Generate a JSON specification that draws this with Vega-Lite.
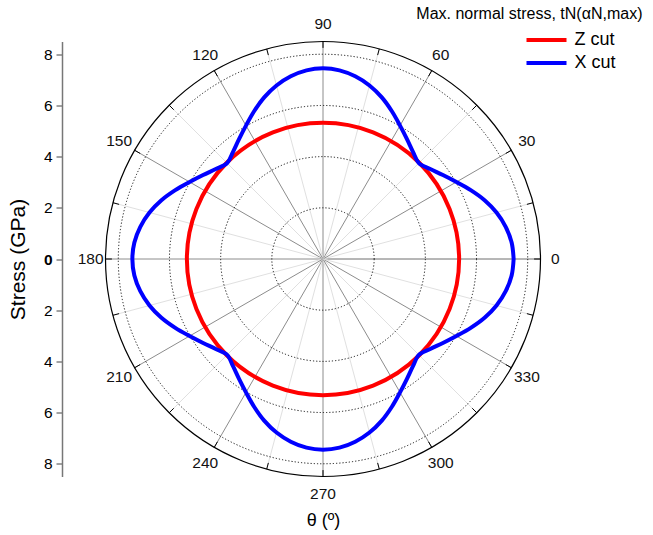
{
  "$schema": "https://vega.github.io/schema/vega-lite/v6.json",
  "width": 435,
  "height": 435,
  "autosize": {"type": "none"},
  "padding": {"left": 105.5, "top": 41.5, "right": 112.5, "bottom": 58.5},
  "background": "white",
  "config": {"font": "Liberation Sans", "view": {"stroke": null}, "axis": {"grid": false}},
  "title": {"text": "Max. normal stress, tN(αN,max)", "anchor": "end", "frame": "group", "dx": 102, "offset": -5.5, "fontSize": 16, "fontWeight": "normal", "color": "#000"},
  "datasets": {
    "spokes": [
      {"a": 0, "c": 0, "xo": 8.5, "yo": 0, "xi": 8.25, "yi": 0},
      {"a": 15, "c": 0, "xo": 8.2104, "yo": 2.2, "xi": 7.9689, "yi": 2.1353},
      {"a": 30, "c": 0, "xo": 7.3613, "yo": 4.25, "xi": 7.1447, "yi": 4.125},
      {"a": 45, "c": 0, "xo": 6.0104, "yo": 6.0104, "xi": 5.8337, "yi": 5.8337},
      {"a": 60, "c": 0, "xo": 4.25, "yo": 7.3613, "xi": 4.125, "yi": 7.1447},
      {"a": 75, "c": 0, "xo": 2.2, "yo": 8.2104, "xi": 2.1353, "yi": 7.9689},
      {"a": 90, "c": 0, "xo": 0, "yo": 8.5, "xi": 0, "yi": 8.25},
      {"a": 105, "c": 0, "xo": -2.2, "yo": 8.2104, "xi": -2.1353, "yi": 7.9689},
      {"a": 120, "c": 0, "xo": -4.25, "yo": 7.3613, "xi": -4.125, "yi": 7.1447},
      {"a": 135, "c": 0, "xo": -6.0104, "yo": 6.0104, "xi": -5.8337, "yi": 5.8337},
      {"a": 150, "c": 0, "xo": -7.3613, "yo": 4.25, "xi": -7.1447, "yi": 4.125},
      {"a": 165, "c": 0, "xo": -8.2104, "yo": 2.2, "xi": -7.9689, "yi": 2.1353},
      {"a": 180, "c": 0, "xo": -8.5, "yo": 0, "xi": -8.25, "yi": 0},
      {"a": 195, "c": 0, "xo": -8.2104, "yo": -2.2, "xi": -7.9689, "yi": -2.1353},
      {"a": 210, "c": 0, "xo": -7.3613, "yo": -4.25, "xi": -7.1447, "yi": -4.125},
      {"a": 225, "c": 0, "xo": -6.0104, "yo": -6.0104, "xi": -5.8337, "yi": -5.8337},
      {"a": 240, "c": 0, "xo": -4.25, "yo": -7.3613, "xi": -4.125, "yi": -7.1447},
      {"a": 255, "c": 0, "xo": -2.2, "yo": -8.2104, "xi": -2.1353, "yi": -7.9689},
      {"a": 270, "c": 0, "xo": 0, "yo": -8.5, "xi": 0, "yi": -8.25},
      {"a": 285, "c": 0, "xo": 2.2, "yo": -8.2104, "xi": 2.1353, "yi": -7.9689},
      {"a": 300, "c": 0, "xo": 4.25, "yo": -7.3613, "xi": 4.125, "yi": -7.1447},
      {"a": 315, "c": 0, "xo": 6.0104, "yo": -6.0104, "xi": 5.8337, "yi": -5.8337},
      {"a": 330, "c": 0, "xo": 7.3613, "yo": -4.25, "xi": 7.1447, "yi": -4.125},
      {"a": 345, "c": 0, "xo": 8.2104, "yo": -2.2, "xi": 7.9689, "yi": -2.1353}
    ],
    "rings": [{"c": 0, "r": 2}, {"c": 0, "r": 4}, {"c": 0, "r": 6}, {"c": 0, "r": 8}],
    "labels": [
      {"angle": 0, "lx": 9.08, "ly": 0},
      {"angle": 30, "lx": 7.967, "ly": 4.6},
      {"angle": 60, "lx": 4.6, "ly": 7.967},
      {"angle": 90, "lx": 0, "ly": 9.2},
      {"angle": 120, "lx": -4.6, "ly": 7.967},
      {"angle": 150, "lx": -7.967, "ly": 4.6},
      {"angle": 180, "lx": -9.08, "ly": 0},
      {"angle": 210, "lx": -7.967, "ly": -4.6},
      {"angle": 240, "lx": -4.6, "ly": -7.967},
      {"angle": 270, "lx": 0, "ly": -9.2},
      {"angle": 300, "lx": 4.6, "ly": -7.967},
      {"angle": 330, "lx": 7.967, "ly": -4.6}
    ],
    "xcut": [
      {"s": "X cut", "t": 0, "x": 7.45, "y": 0},
      {"s": "X cut", "t": 5, "x": 7.372, "y": 0.645},
      {"s": "X cut", "t": 10, "x": 7.14, "y": 1.259},
      {"s": "X cut", "t": 15, "x": 6.781, "y": 1.817},
      {"s": "X cut", "t": 20, "x": 6.315, "y": 2.298},
      {"s": "X cut", "t": 25, "x": 5.773, "y": 2.692},
      {"s": "X cut", "t": 30, "x": 5.214, "y": 3.01},
      {"s": "X cut", "t": 35, "x": 4.686, "y": 3.281},
      {"s": "X cut", "t": 40, "x": 4.19, "y": 3.516},
      {"s": "X cut", "t": 45, "x": 3.748, "y": 3.748},
      {"s": "X cut", "t": 50, "x": 3.516, "y": 4.19},
      {"s": "X cut", "t": 55, "x": 3.281, "y": 4.686},
      {"s": "X cut", "t": 60, "x": 3.01, "y": 5.214},
      {"s": "X cut", "t": 65, "x": 2.692, "y": 5.773},
      {"s": "X cut", "t": 70, "x": 2.298, "y": 6.315},
      {"s": "X cut", "t": 75, "x": 1.817, "y": 6.781},
      {"s": "X cut", "t": 80, "x": 1.259, "y": 7.14},
      {"s": "X cut", "t": 85, "x": 0.645, "y": 7.372},
      {"s": "X cut", "t": 90, "x": 0, "y": 7.45},
      {"s": "X cut", "t": 95, "x": -0.645, "y": 7.372},
      {"s": "X cut", "t": 100, "x": -1.259, "y": 7.14},
      {"s": "X cut", "t": 105, "x": -1.817, "y": 6.781},
      {"s": "X cut", "t": 110, "x": -2.298, "y": 6.315},
      {"s": "X cut", "t": 115, "x": -2.692, "y": 5.773},
      {"s": "X cut", "t": 120, "x": -3.01, "y": 5.214},
      {"s": "X cut", "t": 125, "x": -3.281, "y": 4.686},
      {"s": "X cut", "t": 130, "x": -3.516, "y": 4.19},
      {"s": "X cut", "t": 135, "x": -3.748, "y": 3.748},
      {"s": "X cut", "t": 140, "x": -4.19, "y": 3.516},
      {"s": "X cut", "t": 145, "x": -4.686, "y": 3.281},
      {"s": "X cut", "t": 150, "x": -5.214, "y": 3.01},
      {"s": "X cut", "t": 155, "x": -5.773, "y": 2.692},
      {"s": "X cut", "t": 160, "x": -6.315, "y": 2.298},
      {"s": "X cut", "t": 165, "x": -6.781, "y": 1.817},
      {"s": "X cut", "t": 170, "x": -7.14, "y": 1.259},
      {"s": "X cut", "t": 175, "x": -7.372, "y": 0.645},
      {"s": "X cut", "t": 180, "x": -7.45, "y": 0},
      {"s": "X cut", "t": 185, "x": -7.372, "y": -0.645},
      {"s": "X cut", "t": 190, "x": -7.14, "y": -1.259},
      {"s": "X cut", "t": 195, "x": -6.781, "y": -1.817},
      {"s": "X cut", "t": 200, "x": -6.315, "y": -2.298},
      {"s": "X cut", "t": 205, "x": -5.773, "y": -2.692},
      {"s": "X cut", "t": 210, "x": -5.214, "y": -3.01},
      {"s": "X cut", "t": 215, "x": -4.686, "y": -3.281},
      {"s": "X cut", "t": 220, "x": -4.19, "y": -3.516},
      {"s": "X cut", "t": 225, "x": -3.748, "y": -3.748},
      {"s": "X cut", "t": 230, "x": -3.516, "y": -4.19},
      {"s": "X cut", "t": 235, "x": -3.281, "y": -4.686},
      {"s": "X cut", "t": 240, "x": -3.01, "y": -5.214},
      {"s": "X cut", "t": 245, "x": -2.692, "y": -5.773},
      {"s": "X cut", "t": 250, "x": -2.298, "y": -6.315},
      {"s": "X cut", "t": 255, "x": -1.817, "y": -6.781},
      {"s": "X cut", "t": 260, "x": -1.259, "y": -7.14},
      {"s": "X cut", "t": 265, "x": -0.645, "y": -7.372},
      {"s": "X cut", "t": 270, "x": 0, "y": -7.45},
      {"s": "X cut", "t": 275, "x": 0.645, "y": -7.372},
      {"s": "X cut", "t": 280, "x": 1.259, "y": -7.14},
      {"s": "X cut", "t": 285, "x": 1.817, "y": -6.781},
      {"s": "X cut", "t": 290, "x": 2.298, "y": -6.315},
      {"s": "X cut", "t": 295, "x": 2.692, "y": -5.773},
      {"s": "X cut", "t": 300, "x": 3.01, "y": -5.214},
      {"s": "X cut", "t": 305, "x": 3.281, "y": -4.686},
      {"s": "X cut", "t": 310, "x": 3.516, "y": -4.19},
      {"s": "X cut", "t": 315, "x": 3.748, "y": -3.748},
      {"s": "X cut", "t": 320, "x": 4.19, "y": -3.516},
      {"s": "X cut", "t": 325, "x": 4.686, "y": -3.281},
      {"s": "X cut", "t": 330, "x": 5.214, "y": -3.01},
      {"s": "X cut", "t": 335, "x": 5.773, "y": -2.692},
      {"s": "X cut", "t": 340, "x": 6.315, "y": -2.298},
      {"s": "X cut", "t": 345, "x": 6.781, "y": -1.817},
      {"s": "X cut", "t": 350, "x": 7.14, "y": -1.259},
      {"s": "X cut", "t": 355, "x": 7.372, "y": -0.645},
      {"s": "X cut", "t": 360, "x": 7.45, "y": 0}
    ]
  },
  "layer": [
    {
      "data": {"name": "spokes"},
      "mark": {"type": "rule", "strokeWidth": 1},
      "encoding": {
        "x": {"field": "c", "type": "quantitative", "scale": {"domain": [-8.5, 8.5], "nice": false, "zero": false},
              "axis": {"title": "θ (º)", "labels": false, "ticks": false, "domain": false, "titlePadding": 35, "titleFontSize": 18, "titleFontWeight": "normal", "titleColor": "#000"}},
        "y": {"field": "c", "type": "quantitative", "scale": {"domain": [-8.5, 8.5], "nice": false, "zero": false},
              "axis": {"title": "Stress (GPa)", "values": [-8, -6, -4, -2, 0, 2, 4, 6, 8], "labelExpr": "abs(datum.value)", "offset": 43.5, "tickSize": 6, "tickColor": "#444", "domainColor": "#777", "domainWidth": 1.5, "labelFontSize": 15.5, "labelColor": "#000", "labelPadding": 4, "labelFontWeight": {"condition": {"test": "datum.value == 0", "value": "bold"}, "value": "normal"}, "titleFontSize": 21, "titleFontWeight": "normal", "titleColor": "#000", "titlePadding": 14.5}},
        "x2": {"field": "xo"},
        "y2": {"field": "yo"},
        "stroke": {"condition": [{"test": "datum.a == 0", "value": "#6e6e6e"}, {"test": "datum.a % 30 == 0", "value": "#8c8c8c"}], "value": "#e0e0e0"}
      }
    },
    {
      "data": {"name": "rings"},
      "mark": {"type": "point", "shape": "circle", "filled": false, "stroke": "#111", "strokeWidth": 1, "strokeDash": [1.2, 2], "opacity": 1},
      "encoding": {
        "x": {"field": "c", "type": "quantitative", "scale": {"domain": [-8.5, 8.5], "nice": false, "zero": false}},
        "y": {"field": "c", "type": "quantitative", "scale": {"domain": [-8.5, 8.5], "nice": false, "zero": false}},
        "size": {"field": "r", "type": "quantitative", "legend": null, "scale": {"type": "pow", "exponent": 2, "domain": [0, 8.5], "range": [0, 189225], "nice": false, "zero": true}}
      }
    },
    {
      "data": {"values": [{"c": 0, "r": 8.5}]},
      "mark": {"type": "point", "shape": "circle", "filled": false, "stroke": "#000", "strokeWidth": 1.2, "opacity": 1},
      "encoding": {
        "x": {"field": "c", "type": "quantitative", "scale": {"domain": [-8.5, 8.5], "nice": false, "zero": false}},
        "y": {"field": "c", "type": "quantitative", "scale": {"domain": [-8.5, 8.5], "nice": false, "zero": false}},
        "size": {"field": "r", "type": "quantitative", "legend": null, "scale": {"type": "pow", "exponent": 2, "domain": [0, 8.5], "range": [0, 189225], "nice": false, "zero": true}}
      }
    },
    {
      "data": {"name": "spokes"},
      "mark": {"type": "rule", "strokeWidth": 1, "stroke": "#000"},
      "encoding": {
        "x": {"field": "xi", "type": "quantitative", "scale": {"domain": [-8.5, 8.5], "nice": false, "zero": false}},
        "y": {"field": "yi", "type": "quantitative", "scale": {"domain": [-8.5, 8.5], "nice": false, "zero": false}},
        "x2": {"field": "xo"},
        "y2": {"field": "yo"}
      }
    },
    {
      "data": {"values": [{"s": "Z cut", "c": 0, "r": 5.32}]},
      "mark": {"type": "point", "shape": "circle", "filled": false, "strokeWidth": 4, "opacity": 1},
      "encoding": {
        "x": {"field": "c", "type": "quantitative", "scale": {"domain": [-8.5, 8.5], "nice": false, "zero": false}},
        "y": {"field": "c", "type": "quantitative", "scale": {"domain": [-8.5, 8.5], "nice": false, "zero": false}},
        "size": {"field": "r", "type": "quantitative", "legend": null, "scale": {"type": "pow", "exponent": 2, "domain": [0, 8.5], "range": [0, 189225], "nice": false, "zero": true}},
        "stroke": {"field": "s", "type": "nominal", "scale": {"domain": ["Z cut", "X cut"], "range": ["#ff0000", "#0000ff"]},
                   "legend": {"title": null, "orient": "none", "legendX": 419, "legendY": -13, "symbolType": "stroke", "symbolSize": 1600, "symbolStrokeWidth": 4, "labelFontSize": 18, "labelColor": "#000", "labelOffset": 6, "rowPadding": 0, "clipHeight": 23}}
      }
    },
    {
      "data": {"name": "xcut"},
      "mark": {"type": "line", "strokeWidth": 4, "interpolate": "catmull-rom"},
      "encoding": {
        "x": {"field": "x", "type": "quantitative", "scale": {"domain": [-8.5, 8.5], "nice": false, "zero": false}},
        "y": {"field": "y", "type": "quantitative", "scale": {"domain": [-8.5, 8.5], "nice": false, "zero": false}},
        "order": {"field": "t", "type": "quantitative"},
        "stroke": {"field": "s", "type": "nominal", "scale": {"domain": ["Z cut", "X cut"], "range": ["#ff0000", "#0000ff"]}}
      }
    },
    {
      "data": {"name": "labels"},
      "mark": {"type": "text", "fontSize": 15.5, "color": "#111", "align": "center", "baseline": "middle"},
      "encoding": {
        "x": {"field": "lx", "type": "quantitative", "scale": {"domain": [-8.5, 8.5], "nice": false, "zero": false}},
        "y": {"field": "ly", "type": "quantitative", "scale": {"domain": [-8.5, 8.5], "nice": false, "zero": false}},
        "text": {"field": "angle", "type": "quantitative"}
      }
    }
  ]
}
